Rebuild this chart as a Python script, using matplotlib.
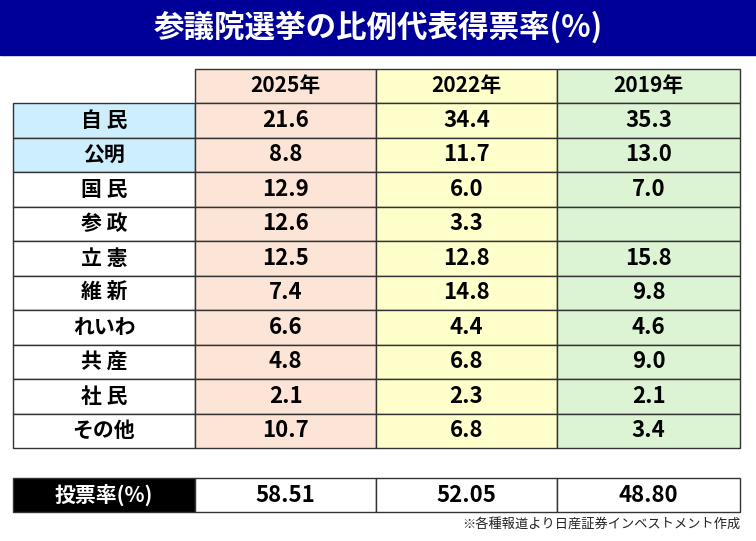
import matplotlib
matplotlib.use("Agg")
import matplotlib.pyplot as plt
from matplotlib.patches import Rectangle

plt.rcParams["font.family"] = "Noto Sans CJK JP"

title = "参議院選挙の比例代表得票率(%)"
years = ["2025年", "2022年", "2019年"]
parties = ["自 民", "公明", "国 民", "参 政", "立 憲", "維 新", "れいわ", "共 産", "社 民", "その他"]
v2025 = [21.6, 8.8, 12.9, 12.6, 12.5, 7.4, 6.6, 4.8, 2.1, 10.7]
v2022 = [34.4, 11.7, 6.0, 3.3, 12.8, 14.8, 4.4, 6.8, 2.3, 6.8]
v2019 = [35.3, 13.0, 7.0, None, 15.8, 9.8, 4.6, 9.0, 2.1, 3.4]
turnout_label = "投票率(%)"
turnout = ["58.51", "52.05", "48.80"]
note = "※各種報道より日産証券インベストメント作成"

fig = plt.figure(figsize=(7.56, 5.41), dpi=100)
ax = fig.add_axes([0, 0, 1, 1])
ax.set_xlim(0, 756); ax.set_ylim(541, 0); ax.axis("off")

ax.add_patch(Rectangle((0, 0), 756, 55, color="#000099"))
ax.text(378, 27, title, color="white", fontsize=22, fontweight="bold", ha="center", va="center")

xs = [13, 195, 376, 557, 740]
colcolors = ["#fce4d6", "#ffffcc", "#dcf3d4"]
ec = "#333333"
top_h, h0 = 69, 103
rh = (448 - 103) / len(parties)

def cell(x0, x1, y0, y1, fc, text, tc="black", fs=15):
    ax.add_patch(Rectangle((x0, y0), x1 - x0, y1 - y0, facecolor=fc, edgecolor=ec, lw=1))
    ax.text((x0 + x1) / 2, (y0 + y1) / 2, text, color=tc, fontsize=fs, fontweight="bold",
            ha="center", va="center")

for j, y in enumerate(years):
    cell(xs[j + 1], xs[j + 2], top_h, h0, colcolors[j], y)
cols = [v2025, v2022, v2019]
for i, p in enumerate(parties):
    y0 = h0 + i * rh; y1 = y0 + rh
    cell(xs[0], xs[1], y0, y1, "#cdeefd" if i < 2 else "white", p)
    for j in range(3):
        v = cols[j][i]
        cell(xs[j + 1], xs[j + 2], y0, y1, colcolors[j], "" if v is None else f"{v:.1f}", fs=16)

cell(xs[0], xs[1], 478, 512, "black", turnout_label, tc="white")
for j in range(3):
    cell(xs[j + 1], xs[j + 2], 478, 512, "white", turnout[j], fs=16)

ax.text(740, 524, note, fontsize=9.5, ha="right", va="center", color="#222222")
fig.savefig("out.png", dpi=100)
